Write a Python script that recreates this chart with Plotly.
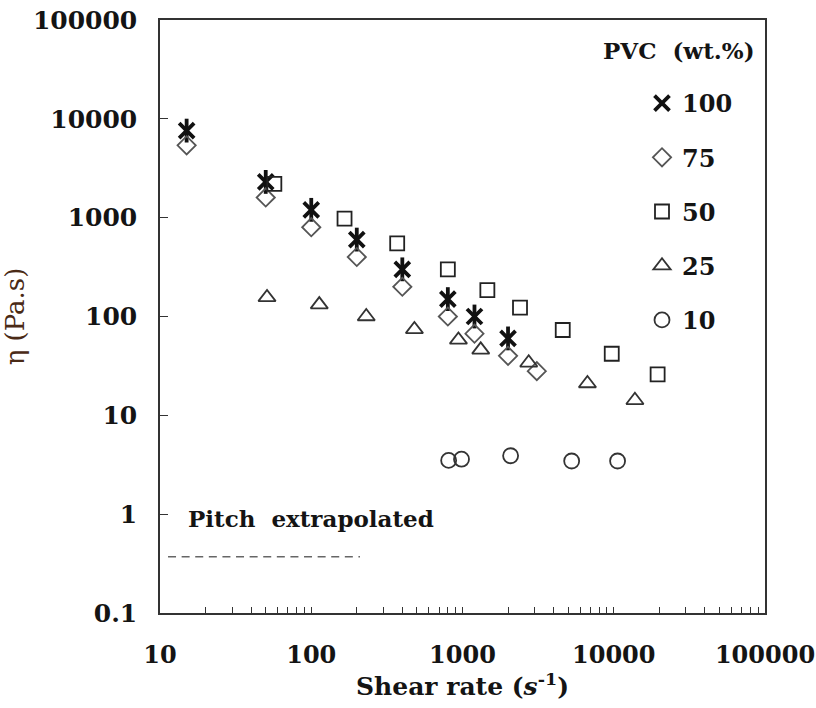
import plotly.graph_objects as go

# ---- data ----
x100 = [15, 50, 100, 200, 400, 800, 1200, 2000]
y100 = [7600, 2300, 1200, 600, 300, 150, 100, 60]

x75 = [15, 50, 100, 200, 400, 800, 1200, 2000, 3100]
y75 = [5400, 1600, 800, 400, 200, 100, 67, 40, 28]

x50 = [57, 166, 370, 800, 1460, 2400, 4600, 9700, 19500]
y50 = [2200, 980, 550, 300, 185, 123, 73, 42, 26]

x25 = [51, 113, 231, 481, 940, 1320, 2740, 6700, 13800]
y25 = [156, 132, 100, 74, 58, 46, 34, 21, 14.2]

x10 = [810, 985, 2080, 5270, 10600]
y10 = [3.5, 3.6, 3.9, 3.45, 3.45]

pitch_x = [11.3, 210]
pitch_y = [0.37, 0.37]

xticks = [10, 100, 1000, 10000, 100000]
xticktext = ["10", "100", "1000", "10000", "100000"]
yticks = [0.1, 1, 10, 100, 1000, 10000, 100000]
yticktext = ["0.1", "1", "10", "100", "1000", "10000", "100000"]

FONT = "DejaVu Serif"
INK = "#141414"

fig = go.Figure()

# PVC 100: asterisk made of x + vertical bar
fig.add_trace(go.Scatter(x=x100, y=y100, mode="markers", name="100",
                         legendgroup="g100",
                         marker=dict(symbol="x-thin-open", size=15, color="#111111",
                                     line=dict(color="#111111", width=3.8))))
fig.add_trace(go.Scatter(x=x100, y=y100, mode="markers", name="100",
                         legendgroup="g100", showlegend=False,
                         marker=dict(symbol="line-ns-open", size=17, color="#111111",
                                     line=dict(color="#111111", width=3.8))))
fig.add_trace(go.Scatter(x=x75, y=y75, mode="markers", name="75",
                         legendgroup="g75",
                         marker=dict(symbol="diamond-open", size=14, color="#555555",
                                     line=dict(color="#555555", width=1.8))))
fig.add_trace(go.Scatter(x=x50, y=y50, mode="markers", name="50",
                         legendgroup="g50",
                         marker=dict(symbol="square-open", size=14, color="#222222",
                                     line=dict(color="#222222", width=1.8))))
fig.add_trace(go.Scatter(x=x25, y=y25, mode="markers", name="25",
                         legendgroup="g25",
                         marker=dict(symbol="triangle-up-open", size=15, color="#333333",
                                     line=dict(color="#333333", width=1.8))))
fig.add_trace(go.Scatter(x=x10, y=y10, mode="markers", name="10",
                         legendgroup="g10",
                         marker=dict(symbol="circle-open", size=15, color="#333333",
                                     line=dict(color="#333333", width=1.8))))
fig.add_trace(go.Scatter(x=pitch_x, y=pitch_y, mode="lines", showlegend=False,
                         line=dict(color="#666666", width=1.5, dash="8px,5.6px")))

fig.add_annotation(x=1.172, y=-0.04, xref="x", yref="y", text="<b>Pitch  extrapolated</b>",
                   showarrow=False, xanchor="left", yanchor="middle",
                   font=dict(family=FONT, size=23, color=INK))

# legend heading
fig.add_annotation(x=1.0 - 8 / 605, y=1.0 - 30 / 593, xref="paper", yref="paper",
                   text="<b>PVC  (wt.%)</b>", showarrow=False,
                   xanchor="right", yanchor="middle",
                   font=dict(family=FONT, size=23, color=INK))

axis_common = dict(showline=True, linecolor="#333333", linewidth=1.5, mirror=True,
                   showgrid=False, zeroline=False, ticks="inside",
                   tickcolor="#333333", tickwidth=1.2, automargin=False)

fig.update_xaxes(type="log", range=[1, 5], tickvals=xticks, ticktext=xticktext,
                 ticklen=6, ticklabelstandoff=19,
                 tickfont=dict(family=FONT, size=24, color=INK, weight="bold"),
                 minor=dict(ticks="inside", ticklen=6, tickcolor="#333333",
                            tickwidth=1.2, dtick="D1", showgrid=False),
                 title=dict(text="<b>Shear rate (<i>s</i><sup>-1</sup>)</b>",
                            font=dict(family=FONT, size=25, color=INK),
                            standoff=4),
                 **axis_common)
fig.update_yaxes(type="log", range=[-1, 5], tickvals=yticks, ticktext=yticktext,
                 ticklen=8, ticklabelstandoff=16,
                 tickfont=dict(family=FONT, size=25, color=INK, weight="bold"),
                 title=dict(text="η (Pa.s)",
                            font=dict(family=FONT, size=26, color="#4a2a16"),
                            standoff=2),
                 **axis_common)

fig.update_layout(
    width=816, height=708,
    margin=dict(l=160, r=51, t=20, b=95),
    plot_bgcolor="white", paper_bgcolor="white",
    showlegend=True,
    legend=dict(x=1.0 - 27 / 605, y=1.0 - 61 / 593, xanchor="right", yanchor="top",
                bgcolor="rgba(0,0,0,0)",
                font=dict(family=FONT, size=24, color=INK, weight="bold"),
                tracegroupgap=20, itemwidth=30),
)

fig.write_html("out.html")
